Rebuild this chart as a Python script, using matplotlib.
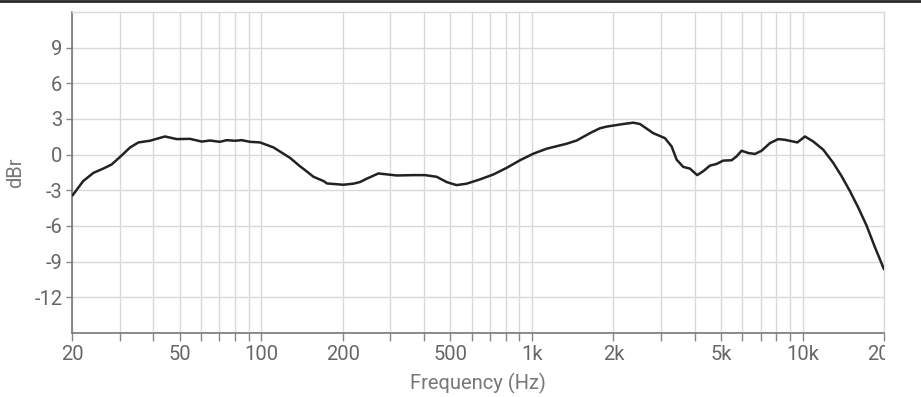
import matplotlib
matplotlib.use("Agg")
import matplotlib.pyplot as plt
from matplotlib.ticker import FixedLocator, NullFormatter
from matplotlib.transforms import Bbox
from matplotlib.lines import Line2D

plt.rcParams['font.family'] = ['Roboto', 'DejaVu Sans']

freq = [20.1, 22.0, 24.0, 26.1, 28.0, 30.1, 32.8, 35.2, 38.8, 44.1, 48.7, 54.6, 60.3,
        64.7, 70.4, 74.6, 80, 84.7, 90.9, 99, 111, 128, 139, 147, 156, 170, 175, 201,
        219, 232, 245, 271, 317, 365, 403, 445, 485, 527, 574, 643, 720, 807, 904,
        1012, 1134, 1344, 1464, 1639, 1784, 1889, 2177, 2370, 2508, 2808, 3102, 3284,
        3427, 3624, 3836, 4082, 4297, 4550, 4816, 5092, 5470, 5708, 5956, 6300, 6670,
        7060, 7578, 8133, 8608, 9574, 10210, 10950, 11927, 12987, 13944, 14963,
        16058, 17248, 18512, 20000]
dbr = [-3.42, -2.22, -1.53, -1.17, -0.83, -0.19, 0.61, 1.03, 1.17, 1.53, 1.31, 1.33,
       1.1, 1.19, 1.08, 1.22, 1.17, 1.22, 1.08, 1.03, 0.61, -0.28, -0.97, -1.39, -1.86,
       -2.22, -2.42, -2.53, -2.44, -2.3, -2.03, -1.58, -1.75, -1.72, -1.72, -1.86,
       -2.31, -2.56, -2.44, -2.08, -1.67, -1.11, -0.47, 0.08, 0.5, 0.92, 1.19, 1.81,
       2.22, 2.36, 2.58, 2.69, 2.58, 1.81, 1.39, 0.69, -0.42, -1.03, -1.17, -1.72,
       -1.39, -0.92, -0.78, -0.5, -0.47, -0.14, 0.33, 0.14, 0.06, 0.33, 0.97, 1.31,
       1.25, 1.03, 1.53, 1.11, 0.42, -0.69, -1.81, -3.06, -4.44, -5.97, -7.78, -9.64]

x_major = [20, 50, 100, 200, 500, 1000, 2000, 5000, 10000, 20000]
x_labels = ['20', '50', '100', '200', '500', '1k', '2k', '5k', '10k', '20k']
x_minor = [30, 40, 60, 70, 80, 90, 300, 400, 600, 700, 800, 900,
           3000, 4000, 6000, 7000, 8000, 9000]
y_ticks = [-12, -9, -6, -3, 0, 3, 6, 9]

fig = plt.figure(figsize=(9.21, 3.97), dpi=100)
ax = fig.add_axes([72/921, 1 - 333/397, (884-72)/921, (333-12)/397])

ax.plot(freq, dbr, color='#222222', lw=1.8, solid_joinstyle='round',
        solid_capstyle='round', zorder=3)
ax.set_xscale('log')
ax.set_xlim(20, 20000)
ax.set_ylim(-15, 12)

ax.xaxis.set_major_locator(FixedLocator(x_major))
ax.set_xticklabels(x_labels)
ax.xaxis.set_minor_locator(FixedLocator(x_minor))
ax.xaxis.set_minor_formatter(NullFormatter())
ax.set_yticks(y_ticks)
ax.set_yticklabels([str(v) for v in y_ticks])

gc = '#d9d9d9'
ax.grid(True, which='both', axis='x', color=gc, lw=1, zorder=0)
ax.grid(True, which='major', axis='y', color=gc, lw=1, zorder=0)
ax.set_axisbelow(True)

for s in ['top', 'right']:
    ax.spines[s].set_color(gc)
    ax.spines[s].set_linewidth(1)
for s in ['left', 'bottom']:
    ax.spines[s].set_color('#777777')
    ax.spines[s].set_linewidth(1.2)

ax.tick_params(axis='x', which='both', length=6, color='#888888', width=1,
               labelsize=14.5, labelcolor='#666666', pad=3)
ax.tick_params(axis='y', which='major', length=4, color='#888888', width=1,
               labelsize=14.5, labelcolor='#666666', pad=3)

ax.set_xlabel('Frequency (Hz)', fontsize=14.5, color='#777777', labelpad=6)
ax.set_ylabel('dBr', fontsize=14.5, color='#777777')
ax.yaxis.set_label_coords(-0.058, 0.5)

fig.canvas.draw()
for lab in ax.get_xticklabels():
    if lab.get_text() == '20k':
        lab.set_clip_box(Bbox.from_extents(0, 0, 885, 397))
        lab.set_clip_on(True)

fig.add_artist(Line2D([0, 1], [1 - 1/397, 1 - 1/397], color='#2a2a2a', lw=2,
                      transform=fig.transFigure))

fig.savefig('out.png', dpi=100)
